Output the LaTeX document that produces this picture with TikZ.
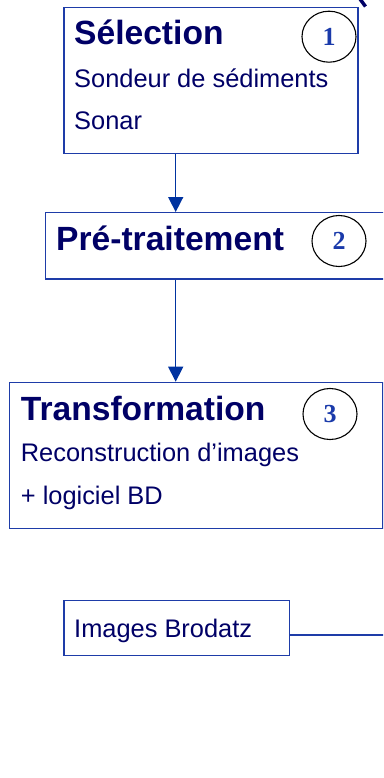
\documentclass[tikz,border=0pt]{standalone}
\usepackage{fontspec}
\setmainfont{Liberation Sans}
\newfontfamily\numfont{Liberation Serif}
\usetikzlibrary{arrows.meta,shapes.geometric}
\definecolor{boxblue}{HTML}{1E3CA8}
\definecolor{arrblue}{HTML}{0033A0}
\definecolor{navy}{HTML}{000066}
\definecolor{numblue}{HTML}{1A3AAA}
\tikzset{
  box/.style={draw=boxblue, line width=1.4pt, rectangle, inner sep=0pt, anchor=north west},
  title/.style={anchor=base west, inner sep=0pt, text=navy, font=\fontsize{33.6}{40}\selectfont\bfseries},
  body/.style={anchor=base west, inner sep=0pt, text=navy, font=\fontsize{25.4}{30}\selectfont},
  num/.style={draw=black, line width=1.1pt, ellipse, minimum width=54pt, minimum height=51pt, inner sep=0pt, text=numblue, font=\fontsize{26}{30}\selectfont\numfont\bfseries},
  arr/.style={draw=arrblue, line width=1.5pt, -{Triangle[width=15pt,length=15pt]}},
  link/.style={draw=boxblue, line width=1.4pt}
}
\begin{document}
\begin{tikzpicture}[x=1pt,y=-1pt]
\useasboundingbox (0,0) rectangle (383,778);
\clip (0,0) rectangle (383,778);
% boxes
\node[box, minimum width=294pt, minimum height=146pt] (b1) at (63.3,6.7) {};
\node[box, minimum width=360pt, minimum height=66.3pt] (b2) at (45,212) {};
\node[box, minimum width=373.3pt, minimum height=146pt] (b3) at (9,381.7) {};
\node[box, minimum width=225.7pt, minimum height=55pt] (b4) at (63.3,600) {};
% texts
\node[title] (t1) at (74,44.3) {Sélection};
\node[body] (t1a) at (74,87.3) {Sondeur de sédiments};
\node[body] (t1b) at (74,129.3) {Sonar};
\node[title] (t2) at (56,250) {Pré-traitement};
\node[title] (t3) at (20.7,420) {Transformation};
\node[body] (t3a) at (20.7,461) {Reconstruction d’images};
\node[body] (t3b) at (20.7,504) {+ logiciel BD};
\node[body] (t4) at (74,637.7) {Images Brodatz};
% numbers
\node[num] (n1) at (329,36.7) {1};
\node[num] (n2) at (339,241) {2};
\node[num] (n3) at (330,414) {3};
% connectors
\coordinate (ax) at (175.7,0);
\coordinate (rend) at (390,635);
\draw[arr] (b1.south -| ax) -- (b2.north -| ax);
\draw[arr] (b2.south -| ax) -- (b3.north -| ax);
\draw[link] (b4.east |- rend) -- (rend);
% cut-off mark at top right
\draw[navy, line width=3.5pt] (360,-1) -- (365.5,6.5);
\end{tikzpicture}
\end{document}
